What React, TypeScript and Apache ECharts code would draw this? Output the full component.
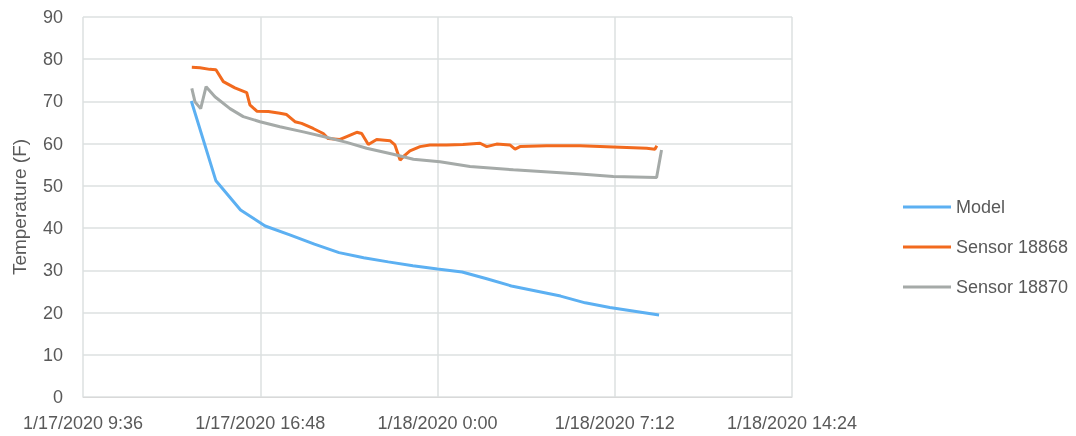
import React, { useEffect, useRef } from "react";
import * as echarts from "echarts";

// x values: hours since 1/17/2020 0:00
const X_ORIGIN = 9.6; // 1/17/2020 9:36
const X_END = 38.4; // 1/18/2020 14:24
const X_STEP = 7.2;

const modelHours = [14, 15, 16, 17, 18, 19, 20, 21, 22, 23, 24, 25, 26, 27, 28, 29, 30, 31, 32, 33];
const modelValues = [70.1, 51.2, 44.3, 40.5, 38.4, 36.2, 34.2, 33.0, 32.0, 31.1, 30.3, 29.6, 28.0, 26.3, 25.1, 23.9, 22.3, 21.2, 20.3, 19.4];

const s18868Hours = [14.02, 14.35, 14.75, 15.0, 15.3, 15.77, 16.25, 16.38, 16.66, 17.13, 17.6, 17.87, 18.21, 18.48, 18.95, 19.36, 19.56, 20.04, 20.24, 20.72, 20.92, 21.19, 21.53, 22.07, 22.27, 22.48, 22.68, 22.88, 23.29, 23.69, 24.37, 25.03, 25.73, 26.0, 26.4, 26.94, 27.15, 27.35, 28.43, 29.79, 31.14, 32.5, 32.83, 32.91];
const s18868Values = [78.1, 78.0, 77.6, 77.5, 74.7, 73.2, 72.1, 69.2, 67.7, 67.6, 67.2, 66.9, 65.2, 64.8, 63.6, 62.4, 61.2, 61.0, 61.5, 62.7, 62.4, 59.8, 61.0, 60.7, 59.7, 56.1, 57.3, 58.3, 59.3, 59.7, 59.7, 59.8, 60.1, 59.3, 59.9, 59.7, 58.7, 59.3, 59.5, 59.5, 59.2, 58.9, 58.7, 59.5];

const s18870Hours = [14.02, 14.15, 14.38, 14.6, 14.96, 15.57, 16.11, 16.79, 17.6, 18.55, 19.36, 20.31, 21.12, 22.2, 23.02, 24.1, 25.32, 27.08, 29.79, 31.14, 32.9, 33.1];
const s18870Values = [73.1, 69.9, 68.3, 73.5, 71.1, 68.3, 66.4, 65.2, 64.0, 62.8, 61.7, 60.3, 58.9, 57.5, 56.3, 55.7, 54.6, 53.8, 52.8, 52.2, 52.0, 58.5];

const xTickLabels = ["1/17/2020 9:36", "1/17/2020 16:48", "1/18/2020 0:00", "1/18/2020 7:12", "1/18/2020 14:24"];

const toPairs = (hs: number[], vs: number[]) => hs.map((h, i) => [h - X_ORIGIN, vs[i]]);

export default function App() {
  const ref = useRef<HTMLDivElement>(null);
  useEffect(() => {
    if (!ref.current) return;
    const chart = echarts.init(ref.current, undefined, { renderer: "svg" });
    const font = "'Liberation Sans Narrow', 'Liberation Sans', sans-serif";
    chart.setOption({
      animation: false,
      grid: { left: 83, right: 284, top: 17, bottom: 39, containLabel: false },
      legend: {
        orient: "vertical",
        left: 898,
        top: 193,
        itemGap: 22,
        itemWidth: 48,
        itemHeight: 3,
        icon: "rect",
        textStyle: { fontFamily: font, fontSize: 18, color: "#595959", padding: [0, 0, 0, 0] },
        data: ["Model", "Sensor 18868", "Sensor 18870"],
      },
      xAxis: {
        type: "value",
        min: 0,
        max: X_END - X_ORIGIN,
        interval: X_STEP,
        axisLine: { show: true, lineStyle: { color: "#d9d9d9" } },
        axisTick: { show: false },
        splitLine: { show: true, lineStyle: { color: "#dde1e1", width: 1.5 } },
        axisLabel: {
          fontFamily: font,
          fontSize: 18,
          color: "#595959",
          margin: 17,
          formatter: (v: number) => xTickLabels[Math.round(v / X_STEP)] ?? "",
        },
      },
      yAxis: {
        type: "value",
        min: 0,
        max: 90,
        interval: 10,
        name: "Temperature (F)",
        nameLocation: "middle",
        nameGap: 54,
        nameTextStyle: { fontFamily: font, fontSize: 19, color: "#595959" },
        axisLine: { show: false },
        axisTick: { show: false },
        splitLine: { show: true, lineStyle: { color: "#dde1e1", width: 1.5 } },
        axisLabel: { fontFamily: font, fontSize: 18, color: "#595959", margin: 20 },
      },
      series: [
        {
          name: "Model",
          type: "line",
          data: toPairs(modelHours, modelValues),
          showSymbol: false,
          symbol: "none",
          lineStyle: { color: "#5cb0f2", width: 3 },
          itemStyle: { color: "#5cb0f2" },
          z: 3,
        },
        {
          name: "Sensor 18868",
          type: "line",
          data: toPairs(s18868Hours, s18868Values),
          showSymbol: false,
          symbol: "none",
          lineStyle: { color: "#f26a1e", width: 3 },
          itemStyle: { color: "#f26a1e" },
          z: 2,
        },
        {
          name: "Sensor 18870",
          type: "line",
          data: toPairs(s18870Hours, s18870Values),
          showSymbol: false,
          symbol: "none",
          lineStyle: { color: "#a5aaa8", width: 3 },
          itemStyle: { color: "#a5aaa8" },
          z: 2,
        },
      ],
    });
    return () => chart.dispose();
  }, []);
  return <div ref={ref} style={{ position: "fixed", left: 0, top: 0, width: 1076, height: 436 }} />;
}
